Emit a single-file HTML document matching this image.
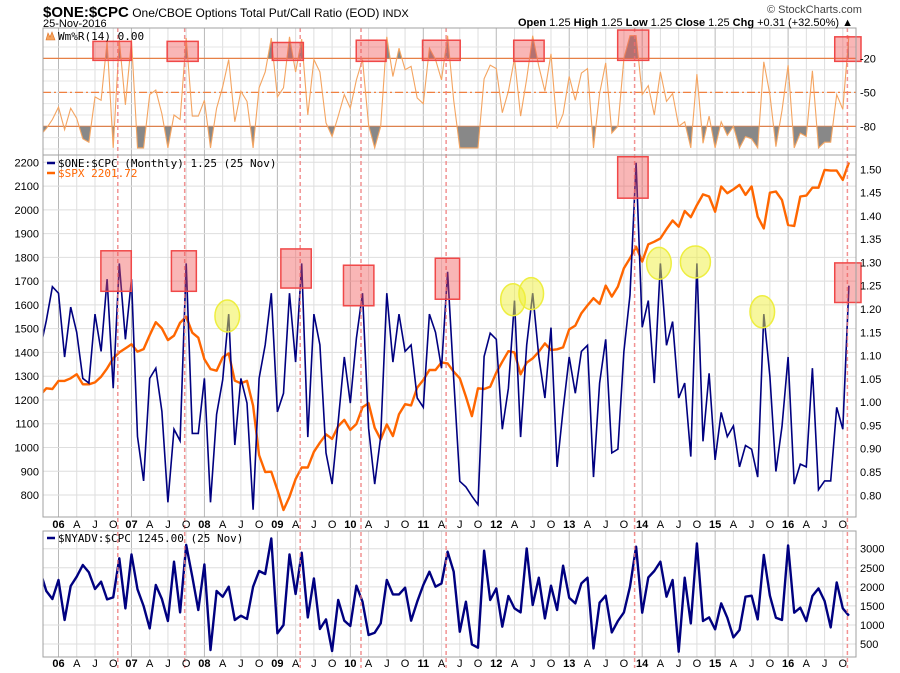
<!DOCTYPE html>
<html><head><meta charset="utf-8">
<style>
html,body{margin:0;padding:0;background:#fff;}
svg{display:block;font-family:"Liberation Sans",sans-serif;}
.t{font-size:11px;fill:#000;}
.mono{font-family:"DejaVu Sans Mono","Liberation Mono",monospace;font-size:11px;}
</style></head>
<body>
<svg id="chart" width="900" height="673" viewBox="0 0 900 673" xmlns="http://www.w3.org/2000/svg">
<defs>
<clipPath id="cTop"><rect x="43" y="28" width="813" height="127"/></clipPath>
<clipPath id="cMain"><rect x="43" y="155" width="813" height="362"/></clipPath>
<clipPath id="cBot"><rect x="43" y="531" width="813" height="126"/></clipPath>
<clipPath id="cTopHi"><rect x="43" y="28" width="813" height="30.4"/></clipPath>
<clipPath id="cTopLo"><rect x="43" y="126.3" width="813" height="30"/></clipPath>
</defs>
<g id="grid"></g>
<g id="marks"></g>
<g id="annot"></g>
<g id="frame">
<rect x="43" y="28" width="813" height="127" fill="none" stroke="#a0a0a0"/>
<rect x="43" y="155" width="813" height="362" fill="none" stroke="#a0a0a0"/>
<rect x="43" y="531" width="813" height="126" fill="none" stroke="#a0a0a0"/>
</g>
<g id="labels">
<text x="43" y="17"><tspan font-weight="bold" font-size="15">$ONE:$CPC</tspan><tspan font-size="12"> One/CBOE Options Total Put/Call Ratio (EOD)</tspan><tspan font-size="11"> INDX</tspan></text>
<text x="43" y="27" font-size="11">25-Nov-2016</text>
<text x="767" y="13" font-size="11" fill="#444">© StockCharts.com</text>
<text x="853" y="26" font-size="11" text-anchor="end"><tspan font-weight="bold">Open</tspan> 1.25  <tspan font-weight="bold">High</tspan> 1.25  <tspan font-weight="bold">Low</tspan> 1.25  <tspan font-weight="bold">Close</tspan> 1.25  <tspan font-weight="bold">Chg</tspan> +0.31 (+32.50%) ▲</text>
<rect x="45" y="31" width="11" height="10" fill="#fff"/>
<path d="M46 40 L48 33 L50 37 L52 32 L55 40 Z" fill="#f4a460" stroke="#e07020" stroke-width="0.6"/>
<text x="58" y="40" class="mono">Wm%R(14) 0.00</text>
<line x1="47" y1="163" x2="55" y2="163" stroke="#000080" stroke-width="2.5"/>
<text x="58" y="167" class="mono">$ONE:$CPC (Monthly) 1.25 (25 Nov)</text>
<line x1="47" y1="173" x2="55" y2="173" stroke="#ff6600" stroke-width="2.5"/>
<text x="58" y="177" class="mono" fill="#ff6600">$SPX 2201.72</text>
<line x1="47" y1="538" x2="55" y2="538" stroke="#000080" stroke-width="2.5"/>
<text x="58" y="542" class="mono">$NYADV:$CPC 1245.00 (25 Nov)</text>
</g>
</svg>
<script>
// ---- data (monthly, starting Oct 2005; month index m=-3 is Oct 2005, m=0 Jan 2006) ----
const startMonth = -3;
const cpcValues = [1.115,1.175,1.248,1.234,1.097,1.204,1.150,1.051,1.041,1.189,1.109,1.264,1.030,1.298,1.135,1.264,0.926,0.831,1.051,1.073,0.980,0.785,0.942,0.917,1.298,0.933,0.933,1.051,0.785,0.974,1.048,1.189,0.908,1.051,0.998,0.769,1.051,1.123,1.234,0.979,1.019,1.234,1.086,1.298,0.925,1.189,1.123,0.891,0.824,0.958,1.097,0.998,1.137,1.234,0.944,0.824,0.926,1.234,1.086,1.189,1.109,1.123,1.009,0.989,1.189,1.150,1.073,1.280,1.050,0.830,0.818,0.798,0.780,1.098,1.148,1.135,0.942,1.030,1.218,0.925,1.123,1.234,1.098,1.009,1.160,0.861,0.984,1.097,1.019,1.109,1.122,0.839,1.041,1.135,0.891,0.899,1.109,1.230,1.514,1.161,1.218,1.041,1.298,1.122,1.173,1.009,1.041,0.883,1.298,0.916,1.062,0.876,0.978,0.926,0.949,0.861,0.907,0.899,0.839,1.189,1.055,0.851,0.948,1.097,0.824,0.867,0.861,1.073,0.812,0.831,0.831,0.989,0.942,1.250];
const spxValues = [1220,1249,1246,1280,1280,1291,1308,1266,1266,1274,1298,1333,1375,1400,1417,1434,1403,1414,1473,1527,1501,1452,1471,1525,1550,1483,1462,1371,1330,1323,1379,1396,1281,1270,1280,1176,968,897,898,821,737,793,867,916,916,982,1020,1055,1036,1090,1116,1074,1099,1169,1186,1083,1034,1097,1048,1140,1182,1177,1252,1284,1326,1326,1358,1354,1319,1291,1214,1132,1249,1246,1256,1315,1361,1405,1400,1308,1357,1375,1403,1438,1410,1413,1421,1497,1513,1565,1598,1628,1604,1681,1635,1677,1754,1796,1845,1782,1855,1866,1880,1919,1955,1929,1995,1969,2020,2065,2056,1992,2098,2070,2086,2105,2063,2098,1971,1922,2072,2077,2041,1936,1932,2056,2060,2093,2093,2168,2165,2165,2126,2199];
const wmrValues = [-88,-82,-74,-63,-83,-64,-73,-91,-94,-54,-57,-5,-99,-4,-61,-4,-99,-99,-52,-48,-69,-99,-70,-74,-2,-71,-71,-57,-99,-64,-45,-21,-76,-49,-58,-99,-46,-32,-2,-54,-46,-1,-32,-3,-70,-21,-32,-77,-89,-71,-52,-64,-39,-21,-79,-99,-80,-1,-36,-11,-30,-27,-55,-60,-11,-21,-39,0,-57,-99,-99,-99,-99,-38,-26,-29,-68,-49,-20,-71,-38,0,-27,-49,-16,-82,-69,-36,-57,-33,-29,-99,-51,-24,-86,-80,-20,0,0,-52,-44,-70,-32,-58,-51,-80,-76,-99,-34,-95,-71,-99,-76,-88,-80,-99,-89,-91,-99,-23,-52,-98,-66,-26,-99,-86,-89,-31,-99,-94,-94,-52,-65,0];
const nyadvValues = [2400,1890,1680,2178,1129,2021,2266,2572,2379,1942,2135,1671,1724,2747,1435,2851,1934,1497,911,2047,1680,1103,2659,1330,3096,2266,1392,2589,343,1890,1741,2003,1129,1243,1156,2003,2414,2336,3271,780,998,2851,1811,2895,1199,2222,893,1147,316,1654,1112,972,2030,1610,736,797,1042,2178,1802,1802,1977,1112,1610,2047,2397,2003,2091,2921,2397,823,1610,491,404,2948,1654,1960,955,1759,1435,1330,3009,1523,2240,1173,2030,1392,2554,1715,1566,2091,2240,386,1584,1767,806,1103,1330,2003,3052,1322,2248,2414,2659,1741,2178,299,2240,1042,3140,1103,1199,885,1566,1191,675,867,1741,1767,1147,2834,1767,1191,1129,3087,1322,1453,1103,1759,1960,1628,937,2117,1435,1243];
const spxTicks = [2200,2100,2000,1900,1800,1700,1600,1500,1400,1300,1200,1100,1000,900,800];
const cpcTicks = ["1.50","1.45","1.40","1.35","1.30","1.25","1.20","1.15","1.10","1.05","1.00","0.95","0.90","0.85","0.80"];
const wmrTicks = [-20,-50,-80];
const nyadvTicks = [3000,2500,2000,1500,1000,500];
const yearLabels = ["06","07","08","09","10","11","12","13","14","15","16"];
const quarterLabels = ["A","J","O"];
const highlightMonths = [10,21,40,50,64,95,130];
// annotation boxes in [month, value] space: main panel (cpc units)
const mainBoxMonths = [[7.3,12.3],[18.9,23],[36.9,41.9],[47.2,52.2],[62.3,66.3],[92.3,97.3],[128,133]];
const mainBoxTops = [1.325,1.325,1.329,1.294,1.309,1.527,1.299];
const mainBoxBottoms = [1.238,1.238,1.245,1.207,1.221,1.438,1.214];
const circleMonths = [28,75,78,99,105,116];
const circleValues = [1.185,1.220,1.233,1.298,1.301,1.194];
const topBoxMonths = [6,12.3,18.2,23.3,35.5,40.6,49.3,54.2,60.2,66.4,75.2,80.2,92.3,97.4,128,133];
const topBoxTops = [-5,-5,-5,-5,-6,-6,-4,-4,-4,-4,-4,-4,5,5,-1,-1];

// ---- scales ----
const X0 = 58.5, DX = 6.08;
function xm(m){ return X0 + m*DX; }
function yWmr(v){ return 35.7 - v*1.133; }
function ySpx(v){ return 162.3 + (2200 - v)*0.23766; }
function yCpc(v){ return 169.3 + (1.5 - v)*465.7; }
function yNy(v){ return 548.7 + (3000 - v)*0.03813; }

const NS = "http://www.w3.org/2000/svg";
function mk(tag, attrs, parent){
  const e = document.createElementNS(NS, tag);
  for (const k in attrs) e.setAttribute(k, attrs[k]);
  parent.appendChild(e);
  return e;
}
const grid = document.getElementById('grid');
const marks = document.getElementById('marks');
const annot = document.getElementById('annot');
const labels = document.getElementById('labels');

// vertical grid + x labels
for (let m = -3; m <= 131; m++) {
  if (((m % 3) + 3) % 3 !== 0) continue;
  const x = xm(m);
  if (x < 43 || x > 856) continue;
  const isYear = (m % 12 === 0);
  const col = isYear ? '#b8b8b8' : '#dedede';
  [[28,155],[155,517],[531,657]].forEach(function(r){
    const ln = mk('line', {x1:x, x2:x, y1:r[0], y2:r[1], stroke:col, 'stroke-width':1}, grid);
    
    
  });
  const txt = isYear ? yearLabels[m/12] : quarterLabels[((m % 12)/3) - 1];
  [528, 667].forEach(function(yy){
    const t = mk('text', {x:x, y:yy, 'text-anchor':'middle', 'font-size':'11', 'font-weight': isYear ? 'bold' : 'normal', fill:'#000'}, labels);
    t.textContent = txt;
    
    
  });
}
// top panel horizontal grid
for (let v = -10; v >= -100; v -= 10) {
  const ln = mk('line', {x1:43, x2:856, y1:yWmr(v), y2:yWmr(v), stroke:'#e4e4e4'}, grid);
  
  
}
wmrTicks.forEach(function(v){
  const y = yWmr(v);
  const ln = mk('line', {x1:43, x2:856, y1:y, y2:y, stroke:'#f08040', 'stroke-width':1.2, 'stroke-dasharray': v === -50 ? '8,3,2,3' : 'none'}, grid);
  
  
  const t = mk('text', {x:860, y:y+4, 'font-size':'11'}, labels);
  t.textContent = String(v);
  
  
});
// main panel grid + ticks
spxTicks.forEach(function(v){
  const y = ySpx(v);
  const ln = mk('line', {x1:43, x2:856, y1:y, y2:y, stroke:'#dedede'}, grid);
  
  
  const t = mk('text', {x:39, y:y+4, 'font-size':'11', 'text-anchor':'end'}, labels);
  t.textContent = String(v);
  
  
});
cpcTicks.forEach(function(s){
  const y = yCpc(parseFloat(s));
  const t = mk('text', {x:860, y:y+4, 'font-size':'11'}, labels);
  t.textContent = s;
  
  
});
nyadvTicks.forEach(function(v){
  const y = yNy(v);
  const ln = mk('line', {x1:43, x2:856, y1:y, y2:y, stroke:'#dedede'}, grid);
  
  
  const t = mk('text', {x:860, y:y+4, 'font-size':'11'}, labels);
  t.textContent = String(v);
  
  
});

function pts(vals, yf){
  return vals.map(function(v,i){ return xm(startMonth+i).toFixed(1)+','+yf(v).toFixed(1); });
}
// Williams %R fills
const wp = pts(wmrValues, yWmr);
const xFirst = xm(startMonth).toFixed(1), xLast = xm(startMonth+wmrValues.length-1).toFixed(1);
const fillLo = mk('polygon', {points: xFirst+','+yWmr(-80)+' '+wp.join(' ')+' '+xLast+','+yWmr(-80), fill:'#888', 'clip-path':'url(#cTopLo)'}, marks);


const fillHi = mk('polygon', {points: xFirst+','+yWmr(-20)+' '+wp.join(' ')+' '+xLast+','+yWmr(-20), fill:'#888', 'clip-path':'url(#cTopHi)'}, marks);


const wl = mk('polyline', {points: wp.join(' '), fill:'none', stroke:'#f4a460', 'stroke-width':1.1, 'clip-path':'url(#cTop)'}, marks);



const sl = mk('polyline', {points: pts(spxValues, ySpx).join(' '), fill:'none', stroke:'#ff6600', 'stroke-width':2.4, 'stroke-linejoin':'round', 'clip-path':'url(#cMain)'}, marks);


const cl = mk('polyline', {points: pts(cpcValues, yCpc).join(' '), fill:'none', stroke:'#000080', 'stroke-width':1.6, 'clip-path':'url(#cMain)'}, marks);


const nl = mk('polyline', {points: pts(nyadvValues, yNy).join(' '), fill:'none', stroke:'#000080', 'stroke-width':2.4, 'stroke-linejoin':'round', 'clip-path':'url(#cBot)'}, marks);



// annotations: dashed highlight lines
highlightMonths.forEach(function(m){
  const x = xm(m) - 1.5;
  const ln = mk('line', {x1:x, x2:x, y1:28, y2:668, stroke:'#f08080', 'stroke-width':1.5, 'stroke-dasharray':'4,3', opacity:0.85}, annot);
  
  
});
// main boxes
mainBoxMonths.forEach(function(r,i){
  const x1 = xm(r[0]) - 2, x2 = Math.min(xm(r[1]) - 2, 861);
  const y1 = yCpc(mainBoxTops[i]), y2 = yCpc(mainBoxBottoms[i]);
  const b = mk('rect', {x:x1, y:y1, width:x2-x1, height:y2-y1, fill:'rgba(240,80,80,0.42)', stroke:'#f04848', 'stroke-width':1.5}, annot);
  
  
});
// top boxes
for (let i = 0; i < topBoxMonths.length; i += 2) {
  const x1 = xm(topBoxMonths[i]) - 2, x2 = Math.min(xm(topBoxMonths[i+1]) - 2, 861);
  const y1 = Math.max(yWmr(topBoxTops[i]), 27), y2 = yWmr(-20) + 2 + (i/2 % 2);
  const b = mk('rect', {x:x1, y:y1, width:x2-x1, height:y2-y1, fill:'rgba(240,80,80,0.42)', stroke:'#f04848', 'stroke-width':1.5}, annot);
  
  
}
// yellow circles
circleMonths.forEach(function(m,i){
  const rx = (m === 105) ? 15 : 12.3;
  const c = mk('ellipse', {cx:xm(m)-1.5, cy:yCpc(circleValues[i]), rx:rx, ry:16, fill:'rgba(240,240,60,0.5)', stroke:'#eeee40', 'stroke-width':1.5}, annot);
  
  
});
// bring legend area above
document.getElementById('chart').appendChild(labels);
</script>
</body></html>
